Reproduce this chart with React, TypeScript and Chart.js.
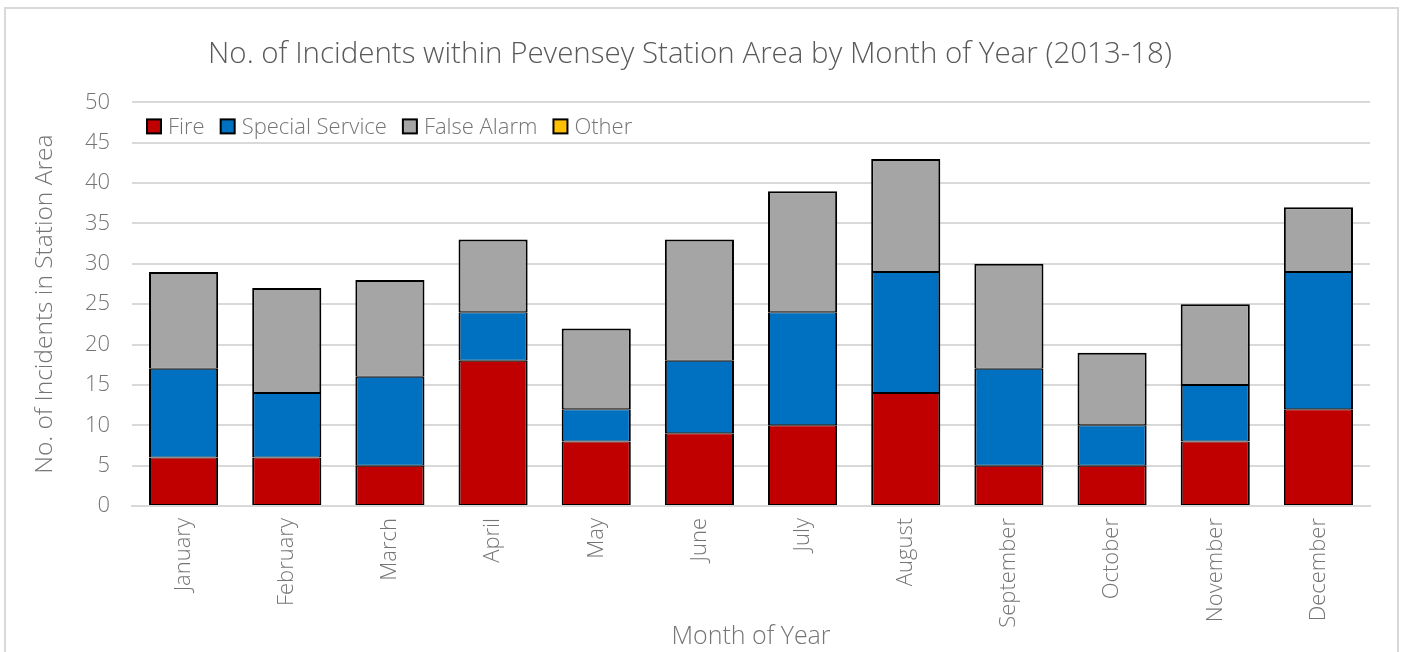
import React, { useEffect, useRef } from "react";
import { Chart, registerables } from "chart.js";

Chart.register(...registerables);

const months = ["January", "February", "March", "April", "May", "June", "July", "August", "September", "October", "November", "December"];
const fire = [6, 6, 5, 18, 8, 9, 10, 14, 5, 5, 8, 12];
const specialService = [11, 8, 11, 6, 4, 9, 14, 15, 12, 5, 7, 17];
const falseAlarm = [12, 13, 12, 9, 10, 15, 15, 14, 13, 9, 10, 8];
const other = [0, 0, 0, 0, 0, 0, 0, 0, 0, 0, 0, 0];

const FONT = "'Open Sans', 'Noto Sans', sans-serif";
const TEXT = "#757575";

const insideLegend = {
  id: "insideLegend",
  afterDraw(chart: any) {
    const ctx = chart.ctx as CanvasRenderingContext2D;
    const area = chart.chartArea;
    let x = area.left + 15;
    const y = area.top + 24;
    ctx.save();
    ctx.font = `300 22px ${FONT}`;
    ctx.textBaseline = "middle";
    ctx.textAlign = "left";
    chart.data.datasets.forEach((ds: any) => {
      ctx.fillStyle = ds.backgroundColor;
      ctx.fillRect(x, y - 7, 14, 14);
      ctx.lineWidth = 2;
      ctx.strokeStyle = "#000";
      ctx.strokeRect(x, y - 7, 14, 14);
      x += 21;
      ctx.fillStyle = TEXT;
      ctx.fillText(ds.label, x, y + 1);
      x += ctx.measureText(ds.label).width + 16;
    });
    ctx.restore();
  },
};

export default function App() {
  const ref = useRef<HTMLCanvasElement | null>(null);
  useEffect(() => {
    if (!ref.current) return;
    const mk = (label: string, data: number[], color: string, isTop: boolean) => ({
      label,
      data,
      backgroundColor: color,
      borderColor: "#000000",
      borderWidth: { left: 2, right: 2, top: isTop ? 2 : 1, bottom: 1 },
      borderSkipped: false as const,
    });
    const chart = new Chart(ref.current, {
      type: "bar",
      data: {
        labels: months,
        datasets: [
          mk("Fire", fire, "#c00000", false),
          mk("Special Service", specialService, "#0070c0", false),
          mk("False Alarm", falseAlarm, "#a5a5a5", true),
          mk("Other", other, "#ffc000", false),
        ],
      },
      plugins: [insideLegend],
      options: {
        responsive: false,
        animation: false,
        layout: { padding: { left: 10, right: 33, top: 18, bottom: 0 } },
        datasets: { bar: { categoryPercentage: 1, barPercentage: 0.67 } },
        plugins: {
          title: {
            display: true,
            text: "No. of Incidents within Pevensey Station Area by Month of Year (2013-18)",
            color: "#595959",
            font: { family: FONT, size: 29.5, weight: "300" as any },
            padding: { top: 19, bottom: 30 },
          },
          legend: { display: false },
          tooltip: { enabled: false },
        },
        scales: {
          x: {
            stacked: true,
            grid: { display: false, drawTicks: false },
            border: { display: true, color: "#d9d9d9", width: 2 },
            ticks: {
              color: TEXT,
              font: { family: FONT, size: 22, weight: "300" as any },
              minRotation: 90,
              maxRotation: 90,
              padding: 12,
            },
            title: {
              display: true,
              text: "Month of Year",
              color: TEXT,
              font: { family: FONT, size: 25, weight: "300" as any },
              padding: { top: 0, bottom: 0 },
            },
            afterFit: (s: any) => {
              s.height = 146;
            },
          },
          y: {
            stacked: true,
            min: 0,
            max: 50,
            ticks: {
              stepSize: 5,
              color: TEXT,
              font: { family: FONT, size: 22, weight: "300" as any },
              padding: 22,
            },
            grid: { color: "#d9d9d9", lineWidth: 2, drawTicks: false },
            border: { display: false },
            title: {
              display: true,
              text: "No. of Incidents in Station Area",
              color: TEXT,
              font: { family: FONT, size: 24.5, weight: "300" as any },
              padding: { top: 20, bottom: 0 },
            },
            afterFit: (s: any) => {
              s.width = 122;
            },
          },
        },
      },
    });
    return () => chart.destroy();
  }, []);
  return (
    <div style={{ position: "absolute", left: 0, top: 0, width: 1403, height: 652, background: "#fff" }}>
      <div
        style={{
          position: "absolute",
          left: 4,
          top: 7,
          width: 1391,
          height: 660,
          border: "2px solid #d9d9d9",
          boxSizing: "content-box",
        }}
      />
      <canvas ref={ref} width={1403} height={652} style={{ position: "absolute", left: 0, top: 0 }} />
    </div>
  );
}
